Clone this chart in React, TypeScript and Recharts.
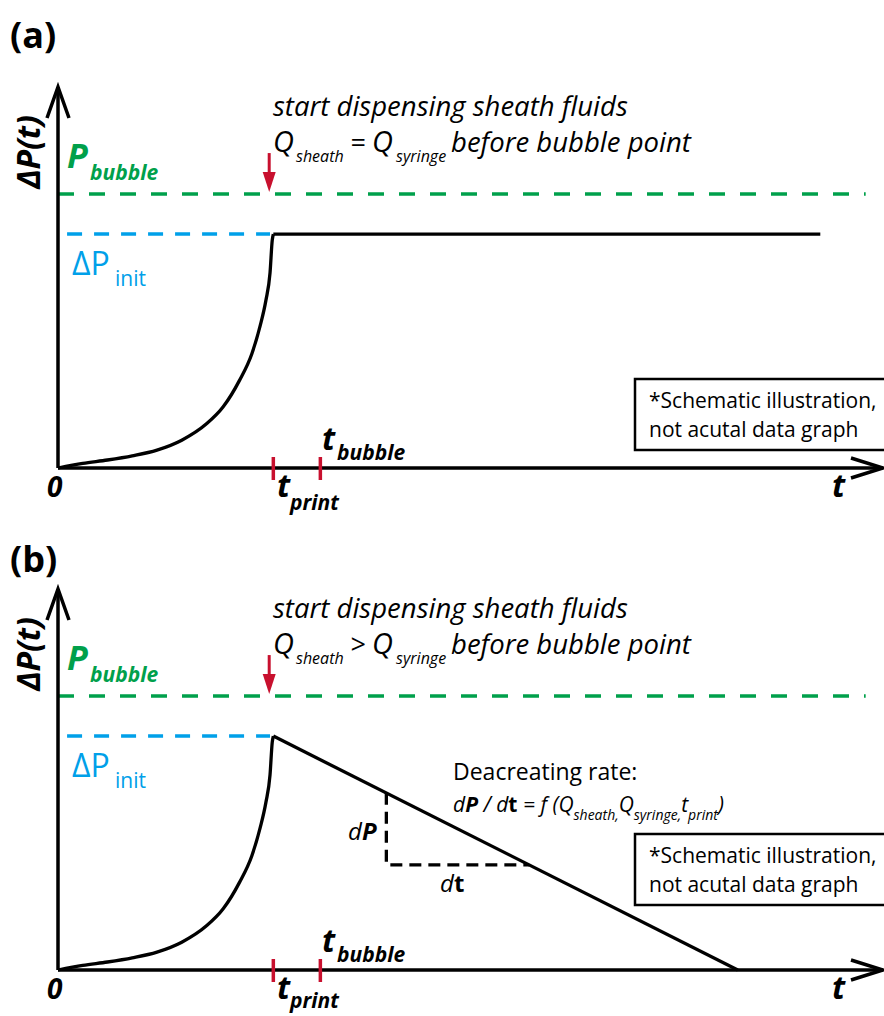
import React from 'react'
import { LineChart, Line, XAxis, YAxis, ReferenceLine, ReferenceDot } from 'recharts'

// schematic units: time 0..100 across the axis, pressure 0..100 up the axis
const riseT = [0, 3, 6, 9, 12, 15, 18, 20, 22, 23.5, 24.5, 25.2, 25.7, 25.97, 26.1]
const riseP = [0, 1.2, 2.1, 3.2, 4.7, 7.3, 11.6, 16.0, 23.0, 30.0, 37.3, 44.0, 51.2, 59.8, 61.4]
const holdT = [26.1, 92.4]
const holdP = [61.4, 61.4]
const dropT = [26.1, 82.4]
const dropP = [61.4, 0]
const bubbleT = [0, 97.9]
const bubbleP = [71.9, 71.9]
const initT = [1.1, 25.7]
const initP = [61.4, 61.4]
const slopeT = [39.8, 39.8, 57.1]
const slopeP = [46.5, 27.6, 27.6]
const tPrint = 26.1
const tBubble = 31.8
const sheathStart = 25.6
const pBubble = 71.9

const FONT = "'Open Sans', sans-serif"
const GREEN = '#00a04b'
const BLUE = '#00a0e9'
const RED = '#c8102e'

const pts = (xs: number[], ys: number[]) => xs.map((x, i) => ({ x, y: ys[i] }))

const xArrow = (p: any) => (
  <path d={`M${p.cx - 32},${p.cy - 10} L${p.cx},${p.cy} L${p.cx - 32},${p.cy + 10}`} stroke="#000" strokeWidth={3.5} fill="none" />
)
const yArrow = (p: any) => (
  <path d={`M${p.cx - 11},${p.cy + 31} L${p.cx},${p.cy} L${p.cx + 11},${p.cy + 31}`} stroke="#000" strokeWidth={3.5} fill="none" />
)
const redTick = (p: any) => (
  <line x1={p.cx} x2={p.cx} y1={p.cy - 11} y2={p.cy + 12} stroke={RED} strokeWidth={3.5} />
)
const redArrow = (p: any) => (
  <g>
    <line x1={p.cx} x2={p.cx} y1={p.cy - 41} y2={p.cy - 20} stroke={RED} strokeWidth={3} />
    <path d={`M${p.cx - 6.5},${p.cy - 22} L${p.cx + 6.5},${p.cy - 22} L${p.cx},${p.cy - 2} Z`} fill={RED} />
  </g>
)

function Notes({ panel }: { panel: 'a' | 'b' }) {
  const box = panel === 'a' ? 379 : 332
  return (
    <g fontFamily={FONT}>
      <text x={10} y={panel === 'a' ? 48 : 70} fontSize={36} fontWeight="bold">({panel})</text>
      <text x={40} y={152} fontSize={32} fontWeight="bold" fontStyle="italic" textAnchor="middle" transform="rotate(-90, 40, 152)">ΔP(t)</text>
      <text fill={GREEN} fontWeight="bold" fontStyle="italic">
        <tspan x={67} y={168} fontSize={34}>P</tspan>
        <tspan x={90} y={180} fontSize={21}>bubble</tspan>
      </text>
      <text fill={BLUE}>
        <tspan x={72} y={275} fontSize={32}>ΔP</tspan>
        <tspan x={115} y={286} fontSize={21}>init</tspan>
      </text>
      <text x={273} y={116} fontSize={27.5} fontStyle="italic">start dispensing sheath fluids</text>
      <text fontStyle="italic">
        <tspan x={273} y={152} fontSize={29}>Q</tspan>
        <tspan x={296} y={162} fontSize={16}>sheath</tspan>
        <tspan x={350} y={152} fontSize={27}>{panel === 'a' ? '=' : '>'}</tspan>
        <tspan x={372} y={152} fontSize={29}>Q</tspan>
        <tspan x={396} y={162} fontSize={16}>syringe</tspan>
        <tspan x={451} y={152} fontSize={27.5}>before bubble point</tspan>
      </text>
      <text x={47} y={497} fontSize={28} fontWeight="bold" fontStyle="italic">0</text>
      <text x={832} y={497} fontSize={32} fontWeight="bold" fontStyle="italic">t</text>
      <text fontWeight="bold" fontStyle="italic">
        <tspan x={277} y={497} fontSize={32}>t</tspan>
        <tspan x={290} y={panel === 'a' ? 510 : 506} fontSize={21}>print</tspan>
      </text>
      <text fontWeight="bold" fontStyle="italic">
        <tspan x={322} y={450} fontSize={32}>t</tspan>
        <tspan x={337} y={460} fontSize={21}>bubble</tspan>
      </text>
      <rect x={635} y={box} width={260} height={71} fill="#fff" stroke="#000" strokeWidth={2.5} />
      <text x={649} y={box + 29} fontSize={21}>*Schematic illustration,</text>
      <text x={649} y={box + 58} fontSize={21}>not acutal data graph</text>
      {panel === 'b' && (
        <g>
          <text x={453} y={278} fontSize={23}>Deacreating rate:</text>
          <text x={453} y={310} fontStyle="italic" fontSize={21}>
            <tspan>d</tspan>
            <tspan fontWeight="bold">P</tspan>
            <tspan> / d</tspan>
            <tspan fontWeight="bold" fontStyle="normal">t</tspan>
            <tspan> = f (Q</tspan>
            <tspan dy={8} fontSize={14}>sheath,</tspan>
            <tspan dy={-8}>Q</tspan>
            <tspan dy={8} fontSize={14}>syringe,</tspan>
            <tspan dy={-8}>t</tspan>
            <tspan dy={8} fontSize={14}>print</tspan>
            <tspan dy={-8}>)</tspan>
          </text>
          <text fontStyle="italic" fontSize={24}>
            <tspan x={348} y={338}>d</tspan>
            <tspan fontWeight="bold">P</tspan>
          </text>
          <text fontStyle="italic" fontSize={24}>
            <tspan x={440} y={390}>d</tspan>
            <tspan fontWeight="bold" fontStyle="normal">t</tspan>
          </text>
        </g>
      )}
    </g>
  )
}

function Panel({ panel }: { panel: 'a' | 'b' }) {
  const height = panel === 'a' ? 520 : 514
  return (
    <div style={{ position: 'absolute', left: 0, top: panel === 'a' ? 0 : 502 }}>
      <LineChart width={884} height={height} margin={{ top: 87, right: 1, bottom: height - 468, left: 58 }}>
        <XAxis type="number" dataKey="x" domain={[0, 100]} hide />
        <YAxis type="number" dataKey="y" domain={[0, 100]} hide />
        <Line data={pts(bubbleT, bubbleP)} dataKey="y" stroke={GREEN} strokeWidth={3.5} strokeDasharray="16 15" dot={false} isAnimationActive={false} />
        <Line data={pts(initT, initP)} dataKey="y" stroke={BLUE} strokeWidth={3.5} strokeDasharray="15 12" dot={false} isAnimationActive={false} />
        <Line data={pts(riseT, riseP)} dataKey="y" type="monotone" stroke="#000" strokeWidth={3.3} dot={false} isAnimationActive={false} />
        {panel === 'a' ? (
          <Line data={pts(holdT, holdP)} dataKey="y" stroke="#000" strokeWidth={3.3} dot={false} isAnimationActive={false} />
        ) : (
          <Line data={pts(dropT, dropP)} dataKey="y" stroke="#000" strokeWidth={3.3} dot={false} isAnimationActive={false} />
        )}
        {panel === 'b' && (
          <Line data={pts(slopeT, slopeP)} dataKey="y" stroke="#000" strokeWidth={3.3} strokeDasharray="12 7" dot={false} isAnimationActive={false} />
        )}
        <ReferenceLine y={0} stroke="#000" strokeWidth={3.5} />
        <ReferenceLine x={0} stroke="#000" strokeWidth={3.5} />
        <ReferenceDot x={100} y={0} r={0} shape={xArrow} />
        <ReferenceDot x={0} y={100} r={0} shape={yArrow} />
        <ReferenceDot x={tPrint} y={0} r={0} shape={redTick} />
        <ReferenceDot x={tBubble} y={0} r={0} shape={redTick} />
        <ReferenceDot x={sheathStart} y={pBubble} r={0} shape={redArrow} />
        <Notes panel={panel} />
      </LineChart>
    </div>
  )
}

export default function App() {
  return (
    <div style={{ position: 'absolute', left: 0, top: 0, width: 884, height: 1016, background: '#fff' }}>
      <Panel panel="a" />
      <Panel panel="b" />
    </div>
  )
}
